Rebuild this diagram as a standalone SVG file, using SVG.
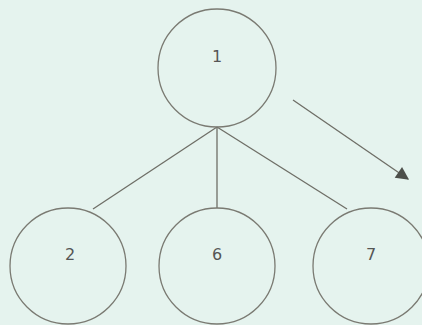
<svg xmlns="http://www.w3.org/2000/svg" width="422" height="325" viewBox="0 0 422 325">
<defs>
<style>
.n{fill:none;stroke:#7a7a72;stroke-width:1.3}
.t{font-family:"DejaVu Sans",sans-serif;font-size:16px;fill:#555;text-anchor:middle}
.e{stroke:#6e6e66;stroke-width:1.3;fill:none}
</style>
<marker id="ah" viewBox="0 0 10 10" refX="9" refY="5" markerWidth="12" markerHeight="10" markerUnits="strokeWidth" orient="auto">
<path d="M0,0L10,5L0,10z" fill="#4d4f4a"/>
</marker>
</defs>
<rect width="422" height="325" fill="#e5f3ee"/>
<g id="connectors">
<line class="e" x1="217" y1="127" x2="93" y2="209"/>
<line class="e" x1="217" y1="127" x2="217" y2="208"/>
<line class="e" x1="217" y1="127" x2="347" y2="209"/>
<line class="e" x1="293" y1="100" x2="408" y2="179" marker-end="url(#ah)"/>
</g>
<g id="n1"><circle class="n" cx="217" cy="68" r="59"/><text class="t" x="217" y="62">1</text></g>
<g id="n2"><circle class="n" cx="68" cy="266" r="58"/><text class="t" x="70" y="260">2</text></g>
<g id="n6"><circle class="n" cx="217" cy="266" r="58"/><text class="t" x="217" y="260">6</text></g>
<g id="n7"><circle class="n" cx="371" cy="266" r="58"/><text class="t" x="371" y="260">7</text></g>
</svg>
